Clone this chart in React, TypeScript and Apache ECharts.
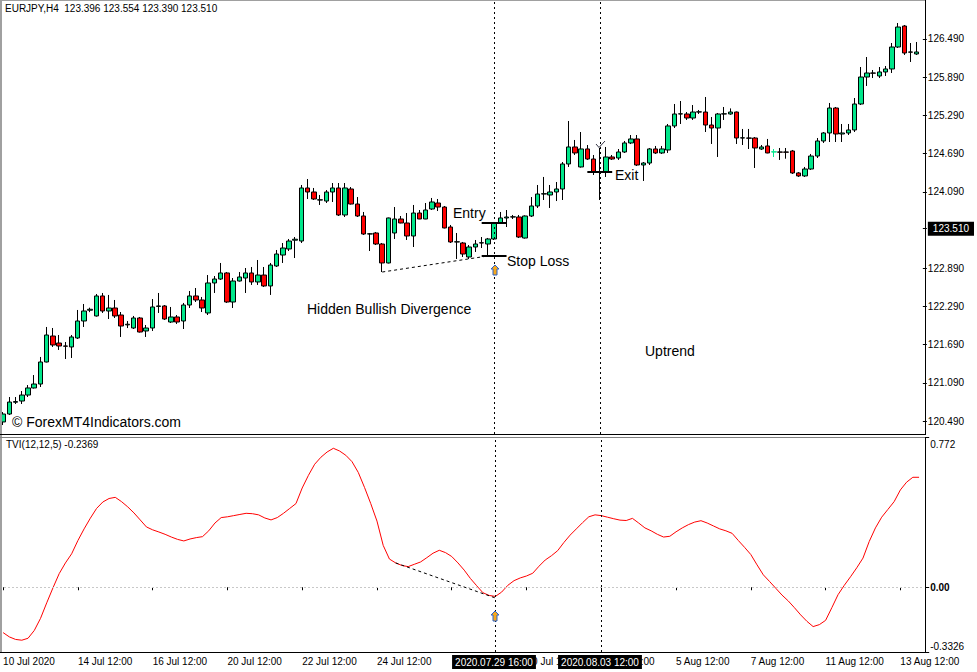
import React, { useEffect, useRef } from 'react';
import * as echarts from 'echarts';

const FONT = "'Liberation Sans', Arial, sans-serif";

const opens = [
  120.475, 120.600, 120.785, 120.804, 120.898, 121.009, 121.071, 121.417, 121.825, 121.715,
  121.668, 121.653, 121.794, 122.061, 122.230, 122.140, 122.454, 122.218, 122.265, 122.155,
  122.000, 121.951, 122.108, 121.904, 121.951, 122.290, 122.297, 122.045, 122.124, 122.061,
  122.312, 122.454, 122.391, 122.187, 122.658, 122.720, 122.815, 122.359, 122.689, 122.736,
  122.815, 122.674, 122.783, 122.611, 122.925, 123.097, 123.192, 123.330, 123.317, 124.150,
  124.087, 123.960, 123.945, 124.087, 124.150, 123.726, 124.134, 123.898, 123.710, 123.427,
  123.443, 123.270, 122.972, 123.443, 123.663, 123.600, 123.396, 123.757, 123.663, 123.820,
  123.914, 123.851, 123.537, 123.302, 123.286, 123.066, 123.223, 123.286, 123.270, 123.349,
  123.600, 123.679, 123.694, 123.694, 123.364, 123.710, 123.867, 124.055, 124.040, 124.087,
  124.134, 124.527, 124.794, 124.480, 124.763, 124.605, 124.400, 124.401, 124.637, 124.621,
  124.715, 124.857, 124.920, 124.511, 124.542, 124.763, 124.700, 124.747, 125.124, 125.312,
  125.312, 125.249, 125.343, 125.343, 125.139, 125.092, 125.312, 125.312, 125.343, 124.935,
  124.935, 124.935, 124.762, 124.810, 124.715, 124.715, 124.715, 124.731, 124.386, 124.339,
  124.448, 124.652, 124.888, 125.014, 125.406, 124.998, 125.014, 125.061, 125.469, 125.893,
  125.956, 125.909, 125.972, 126.019, 126.364, 126.694, 126.286, 126.255,
];

const closes = [
  120.600, 120.788, 120.795, 120.898, 121.009, 121.071, 121.417, 121.841, 121.684, 121.668,
  121.665, 121.810, 122.061, 122.218, 122.245, 122.454, 122.218, 122.265, 122.140, 121.982,
  122.010, 122.108, 121.888, 121.951, 122.281, 122.297, 122.092, 122.124, 122.045, 122.312,
  122.454, 122.391, 122.265, 122.658, 122.720, 122.815, 122.359, 122.689, 122.752, 122.815,
  122.674, 122.783, 122.611, 122.940, 123.113, 123.207, 123.317, 123.345, 124.150, 124.087,
  123.977, 123.965, 124.087, 124.150, 123.726, 124.150, 123.898, 123.710, 123.427, 123.430,
  123.270, 122.972, 123.679, 123.663, 123.600, 123.396, 123.757, 123.663, 123.804, 123.930,
  123.851, 123.522, 123.302, 123.305, 123.113, 123.223, 123.270, 123.290, 123.349, 123.600,
  123.679, 123.694, 123.697, 123.380, 123.710, 123.867, 124.055, 124.060, 124.087, 124.134,
  124.527, 124.794, 124.700, 124.763, 124.605, 124.401, 124.395, 124.637, 124.605, 124.715,
  124.857, 124.920, 124.511, 124.542, 124.763, 124.700, 124.763, 125.124, 125.312, 125.315,
  125.249, 125.343, 125.346, 125.139, 125.092, 125.312, 125.315, 125.343, 124.935, 124.938,
  124.932, 124.778, 124.794, 124.700, 124.718, 124.713, 124.712, 124.386, 124.339, 124.448,
  124.652, 124.888, 125.014, 125.406, 124.998, 125.014, 125.061, 125.469, 125.893, 125.956,
  125.953, 125.972, 126.019, 126.364, 126.678, 126.270, 126.283, 126.286,
];

const highs = [
  120.631, 120.867, 120.867, 120.961, 121.055, 121.212, 121.496, 121.967, 121.951, 121.841,
  121.731, 121.841, 122.234, 122.328, 122.270, 122.485, 122.501, 122.470, 122.391, 122.202,
  122.060, 122.140, 122.124, 121.998, 122.406, 122.501, 122.312, 122.281, 122.155, 122.344,
  122.532, 122.579, 122.438, 122.783, 122.767, 122.972, 122.830, 122.736, 122.830, 122.893,
  122.909, 123.019, 122.909, 122.972, 123.176, 123.286, 123.349, 123.380, 124.197, 124.291,
  124.150, 124.040, 124.118, 124.228, 124.228, 124.228, 124.165, 124.008, 123.773, 123.443,
  123.459, 123.286, 123.685, 123.851, 123.710, 123.757, 123.883, 123.804, 123.914, 123.993,
  123.977, 123.867, 123.569, 123.443, 123.302, 123.254, 123.333, 123.380, 123.365, 123.616,
  123.773, 123.804, 123.726, 123.726, 123.720, 124.008, 124.197, 124.323, 124.197, 124.244,
  124.558, 125.202, 124.904, 125.029, 124.825, 124.668, 124.778, 124.794, 124.668, 124.762,
  124.888, 124.982, 124.982, 124.558, 124.778, 124.810, 124.810, 125.155, 125.469, 125.516,
  125.343, 125.453, 125.375, 125.579, 125.265, 125.328, 125.422, 125.400, 125.350, 125.077,
  125.077, 124.950, 124.825, 124.920, 124.762, 124.778, 124.778, 124.747, 124.400, 124.480,
  124.684, 124.935, 125.029, 125.485, 125.422, 125.155, 125.155, 125.563, 126.050, 126.207,
  126.003, 126.050, 126.066, 126.427, 126.741, 126.710, 126.427, 126.443,
];

const lows = [
  120.427, 120.585, 120.757, 120.757, 120.867, 121.000, 121.024, 121.410, 121.653, 121.606,
  121.464, 121.480, 121.778, 121.967, 122.200, 122.130, 122.187, 122.092, 122.108, 121.810,
  121.950, 121.935, 121.880, 121.810, 121.904, 122.187, 122.077, 122.030, 122.014, 121.935,
  122.265, 122.359, 122.202, 122.155, 122.501, 122.705, 122.344, 122.265, 122.680, 122.501,
  122.627, 122.627, 122.595, 122.470, 122.909, 122.972, 123.160, 123.050, 123.286, 123.977,
  123.961, 123.883, 123.914, 123.930, 123.710, 123.694, 123.890, 123.694, 123.412, 123.160,
  123.254, 122.830, 122.965, 123.349, 123.595, 123.333, 123.223, 123.660, 123.660, 123.804,
  123.788, 123.515, 123.286, 123.035, 123.066, 123.035, 123.145, 123.207, 123.082, 123.333,
  123.595, 123.537, 123.663, 123.364, 123.355, 123.694, 123.836, 123.961, 123.836, 123.945,
  123.961, 124.480, 124.668, 124.470, 124.590, 124.354, 123.961, 124.323, 124.590, 124.590,
  124.700, 124.840, 124.495, 124.260, 124.511, 124.684, 124.684, 124.700, 125.092, 125.155,
  125.218, 125.218, 125.312, 125.029, 124.841, 124.637, 125.218, 125.300, 124.841, 124.825,
  124.762, 124.464, 124.747, 124.695, 124.637, 124.590, 124.610, 124.370, 124.323, 124.323,
  124.433, 124.621, 124.857, 124.872, 124.872, 124.872, 124.982, 125.029, 125.453, 125.752,
  125.877, 125.877, 125.909, 125.956, 126.349, 126.239, 126.129, 126.239,
];

const tvi = [
  -0.233, -0.255, -0.268, -0.272, -0.262, -0.222, -0.160, -0.080, -0.003, 0.070,
  0.125, 0.172, 0.240, 0.300, 0.355, 0.405, 0.438, 0.456, 0.462, 0.440,
  0.413, 0.382, 0.346, 0.310, 0.295, 0.284, 0.272, 0.258, 0.246, 0.238,
  0.248, 0.255, 0.260, 0.290, 0.330, 0.358, 0.362, 0.368, 0.374, 0.380,
  0.378, 0.372, 0.356, 0.346, 0.358, 0.380, 0.405, 0.430, 0.510, 0.575,
  0.632, 0.668, 0.695, 0.714, 0.700, 0.678, 0.645, 0.590, 0.513, 0.430,
  0.340, 0.215, 0.145, 0.125, 0.112, 0.106, 0.118, 0.130, 0.152, 0.175,
  0.190, 0.178, 0.158, 0.125, 0.088, 0.045, 0.008, -0.028, -0.042, -0.047,
  -0.025, 0.010, 0.034, 0.048, 0.058, 0.072, 0.108, 0.140, 0.162, 0.188,
  0.230, 0.268, 0.300, 0.332, 0.362, 0.372, 0.368, 0.360, 0.352, 0.345,
  0.343, 0.354, 0.330, 0.305, 0.290, 0.272, 0.258, 0.262, 0.285, 0.305,
  0.322, 0.335, 0.342, 0.330, 0.315, 0.300, 0.290, 0.277, 0.240, 0.205,
  0.168, 0.115, 0.064, 0.030, -0.005, -0.040, -0.070, -0.105, -0.142, -0.175,
  -0.202, -0.192, -0.170, -0.105, -0.038, 0.010, 0.054, 0.100, 0.150, 0.235,
  0.305, 0.360, 0.400, 0.440, 0.500, 0.540, 0.565, 0.565,
];

const priceTicks = [120.49, 121.09, 121.69, 122.29, 122.89, 123.51, 124.09, 124.69, 125.29, 125.89, 126.49];
const currentPrice = 123.51;
const tviTicks = [0.772, 0, -0.3326];
const timeTickIndex = [0, 12, 24, 36, 48, 60, 72, 84, 96, 108, 120, 132, 144];
// the 28 Jul 12:00 label (index 72) sits fully under the crosshair time box in the reference
const timeTickLabel = [
  '10 Jul 2020', '14 Jul 12:00', '16 Jul 12:00', '20 Jul 12:00', '22 Jul 12:00', '24 Jul 12:00',
  '', '30 Jul 12:00', '3 Aug 12:00', '5 Aug 12:00', '7 Aug 12:00', '11 Aug 12:00', '13 Aug 12:00',
];

// H4 bar times (weekdays only), starting 2020.07.10 12:00
function buildCategories(n: number): string[] {
  const out: string[] = [];
  let t = Date.UTC(2020, 6, 10, 12);
  while (out.length < n) {
    const d = new Date(t);
    const wd = d.getUTCDay();
    if (wd !== 0 && wd !== 6) {
      const p = (v: number) => String(v).padStart(2, '0');
      out.push(`${d.getUTCFullYear()}.${p(d.getUTCMonth() + 1)}.${p(d.getUTCDate())} ${p(d.getUTCHours())}:00`);
    }
    t += 4 * 3600 * 1000;
  }
  return out;
}

const categories = buildCategories(opens.length);

const BULL = '#00e68a';
const BEAR = '#ff0000';

export default function App() {
  const ref = useRef<HTMLDivElement>(null);
  useEffect(() => {
    document.body.style.margin = '0';
    if (!ref.current) return;
    const chart = echarts.init(ref.current, undefined, { renderer: 'svg' });

    const candleData = opens.map((o, i) => {
      const v = [o, closes[i], lows[i], highs[i]];
      if (i === 124) return { value: v, itemStyle: { borderColor: BULL, color: BULL } };
      return v;
    });

    const gridLeft = -0.62;
    const gridWidth = 922.8;

    const dotted = { color: '#000', type: [2, 3] as any, width: 1 };

    const option: any = {
      animation: false,
      backgroundColor: '#fff',
      textStyle: { fontFamily: FONT },
      grid: [
        { left: gridLeft, top: 2, width: gridWidth, height: 432 },
        { left: gridLeft, top: 437, width: gridWidth, height: 215 },
      ],
      xAxis: [
        {
          gridIndex: 0, type: 'category', data: categories, boundaryGap: true,
          axisLine: { show: false }, axisTick: { show: false }, axisLabel: { show: false }, splitLine: { show: false },
        },
        {
          gridIndex: 1, type: 'category', data: categories, boundaryGap: true,
          axisLine: { show: false },
          axisTick: {
            show: true, alignWithLabel: true, length: 3,
            interval: (idx: number) => timeTickIndex.includes(idx),
            lineStyle: { color: '#000' },
          },
          axisLabel: {
            show: true, align: 'left', margin: 4, fontSize: 10, color: '#000', fontFamily: FONT,
            interval: (idx: number) => timeTickIndex.includes(idx) && timeTickLabel[timeTickIndex.indexOf(idx)] !== '',
            formatter: (_v: string, idx: number) => {
              const k = timeTickIndex.indexOf(idx);
              return k >= 0 ? timeTickLabel[k] : '';
            },
          },
          splitLine: { show: false },
        },
      ],
      yAxis: [
        {
          gridIndex: 0, type: 'value', position: 'right', offset: 3,
          min: 120.286, max: 127.071, scale: true,
          axisLine: { show: false },
          axisTick: { show: true, length: 4, customValues: priceTicks, lineStyle: { color: '#000' } },
          axisLabel: {
            customValues: priceTicks, margin: 5, fontSize: 10, color: '#000', fontFamily: FONT,
            formatter: (v: number) => Math.abs(v - currentPrice) < 1e-6 ? `{hl|${v.toFixed(3)}}` : v.toFixed(3),
            rich: {
              hl: { backgroundColor: '#000', color: '#fff', fontSize: 10, fontFamily: FONT, padding: [2, 5, 2, 5] },
            },
          },
          splitLine: { show: false },
        },
        {
          gridIndex: 1, type: 'value', position: 'right', offset: 3,
          min: -0.3326, max: 0.772,
          axisLine: { show: false },
          axisTick: { show: true, length: 4, customValues: tviTicks, lineStyle: { color: '#000' } },
          axisLabel: {
            customValues: tviTicks, margin: 5, fontSize: 10, color: '#000', fontFamily: FONT,
            formatter: (v: number) => {
              if (v > 0.5) return `{t|${v.toFixed(3)}}`;
              if (v < -0.2) return `{b|${v.toFixed(4)}}`;
              return `{z|${v.toFixed(2)}}`;
            },
            rich: {
              t: { padding: [14, 0, 0, 0], fontSize: 10, fontFamily: FONT, color: '#000' },
              b: { padding: [0, 0, 12, 0], fontSize: 10, fontFamily: FONT, color: '#000' },
              z: { fontSize: 10, fontFamily: FONT, color: '#000', fontWeight: 'bold' },
            },
          },
          splitLine: { show: false },
        },
      ],
      series: [
        {
          type: 'candlestick',
          xAxisIndex: 0, yAxisIndex: 0,
          data: candleData,
          barWidth: 5,
          itemStyle: {
            color: BULL, color0: BEAR, borderColor: '#000', borderColor0: '#000', borderWidth: 1,
            borderColorDoji: '#000',
          },
          markLine: {
            silent: true, symbol: ['none', 'none'], label: { show: false }, animation: false,
            data: [
              { xAxis: categories[79], lineStyle: dotted },
              { xAxis: categories[96], lineStyle: dotted },
              [
                { coord: [categories[61], 122.830], lineStyle: { color: '#000', type: [3, 3], width: 1 } },
                { coord: [categories[78], 123.082] },
              ],
              [
                { coord: [categories[77], 123.600], lineStyle: { color: '#000', type: 'solid', width: 2 } },
                { coord: [categories[81], 123.600] },
              ],
              [
                { coord: [categories[77], 123.082], lineStyle: { color: '#000', type: 'solid', width: 2 } },
                { coord: [categories[81], 123.082] },
              ],
              [
                { coord: [categories[94], 124.401], lineStyle: { color: '#000', type: 'solid', width: 2 } },
                { coord: [categories[98], 124.401] },
              ],
            ],
          },
        },
        {
          type: 'line',
          xAxisIndex: 1, yAxisIndex: 1,
          data: tvi,
          symbol: 'none',
          lineStyle: { color: '#ff0000', width: 1 },
          markLine: {
            silent: true, symbol: ['none', 'none'], label: { show: false }, animation: false,
            data: [
              { yAxis: 0, lineStyle: { color: '#c8c8c8', type: [2, 2], width: 1 } },
              { xAxis: categories[79], lineStyle: dotted },
              { xAxis: categories[96], lineStyle: dotted },
              [
                { coord: [categories[63], 0.125], lineStyle: { color: '#000', type: [3, 3], width: 1 } },
                { coord: [categories[79], -0.055] },
              ],
            ],
          },
        },
      ],
      graphic: [
        // frame
        { type: 'line', z: 50, shape: { x1: 0, y1: 0.5, x2: 926, y2: 0.5 }, style: { stroke: '#a0a0a0', lineWidth: 1 } },
        { type: 'line', z: 50, shape: { x1: 1, y1: 0, x2: 1, y2: 653 }, style: { stroke: '#a0a0a0', lineWidth: 2 } },
        { type: 'line', z: 50, shape: { x1: 0, y1: 434.5, x2: 926, y2: 434.5 }, style: { stroke: '#000', lineWidth: 1 } },
        { type: 'line', z: 50, shape: { x1: 0, y1: 437.5, x2: 926, y2: 437.5 }, style: { stroke: '#808080', lineWidth: 1 } },
        { type: 'line', z: 50, shape: { x1: 0, y1: 652.5, x2: 926, y2: 652.5 }, style: { stroke: '#000', lineWidth: 1 } },
        { type: 'line', z: 50, shape: { x1: 925.5, y1: 0, x2: 925.5, y2: 435 }, style: { stroke: '#000', lineWidth: 1 } },
        { type: 'line', z: 50, shape: { x1: 925.5, y1: 437, x2: 925.5, y2: 653 }, style: { stroke: '#000', lineWidth: 1 } },
        // headers
        { type: 'text', z: 60, left: 5, top: 3, style: { text: 'EURJPY,H4  123.396 123.554 123.390 123.510', font: `10px ${FONT}`, fill: '#000' } },
        { type: 'text', z: 60, left: 6, top: 439, style: { text: 'TVI(12,12,5) -0.2369', font: `10px ${FONT}`, fill: '#000' } },
        // annotations
        { type: 'text', z: 60, left: 453, top: 206, style: { text: 'Entry', font: `14px ${FONT}`, fill: '#000' } },
        { type: 'text', z: 60, left: 507, top: 254, style: { text: 'Stop Loss', font: `14px ${FONT}`, fill: '#000' } },
        { type: 'text', z: 60, left: 615, top: 168, style: { text: 'Exit', font: `14px ${FONT}`, fill: '#000' } },
        { type: 'text', z: 60, left: 307, top: 302, style: { text: 'Hidden Bullish Divergence', font: `14px ${FONT}`, fill: '#000' } },
        { type: 'text', z: 60, left: 645, top: 344, style: { text: 'Uptrend', font: `14px ${FONT}`, fill: '#000' } },
        { type: 'text', z: 60, left: 12, top: 415, style: { text: '© ForexMT4Indicators.com', font: `14px ${FONT}`, fill: '#000' } },
        // check mark
        { type: 'polyline', z: 60, shape: { points: [[596, 144], [599, 147.5], [605, 141]] }, style: { stroke: '#334', lineWidth: 1, fill: 'none' } },
        // arrows
        {
          type: 'polygon', z: 60, x: 495, y: 270,
          shape: { points: [[0, -5], [4, -1], [2, -1], [2, 5], [-2, 5], [-2, -1], [-4, -1]] },
          style: { fill: '#f6a81c', stroke: '#2a62c9', lineWidth: 1 },
        },
        {
          type: 'polygon', z: 60, x: 495, y: 616,
          shape: { points: [[0, -5], [4, -1], [2, -1], [2, 5], [-2, 5], [-2, -1], [-4, -1]] },
          style: { fill: '#f6a81c', stroke: '#2a62c9', lineWidth: 1 },
        },
        // time boxes
        {
          type: 'text', z: 100, x: 494, y: 655,
          style: { text: '2020.07.29 16:00', font: `10px ${FONT}`, fill: '#fff', backgroundColor: '#000', padding: [2, 3, 2, 3], align: 'center', verticalAlign: 'top' },
        },
        {
          type: 'text', z: 100, x: 600, y: 655,
          style: { text: '2020.08.03 12:00', font: `10px ${FONT}`, fill: '#fff', backgroundColor: '#000', padding: [2, 3, 2, 3], align: 'center', verticalAlign: 'top' },
        },
      ],
    };

    chart.setOption(option);
    return () => chart.dispose();
  }, []);

  return <div ref={ref} style={{ width: 977, height: 672, background: '#fff' }} />;
}
